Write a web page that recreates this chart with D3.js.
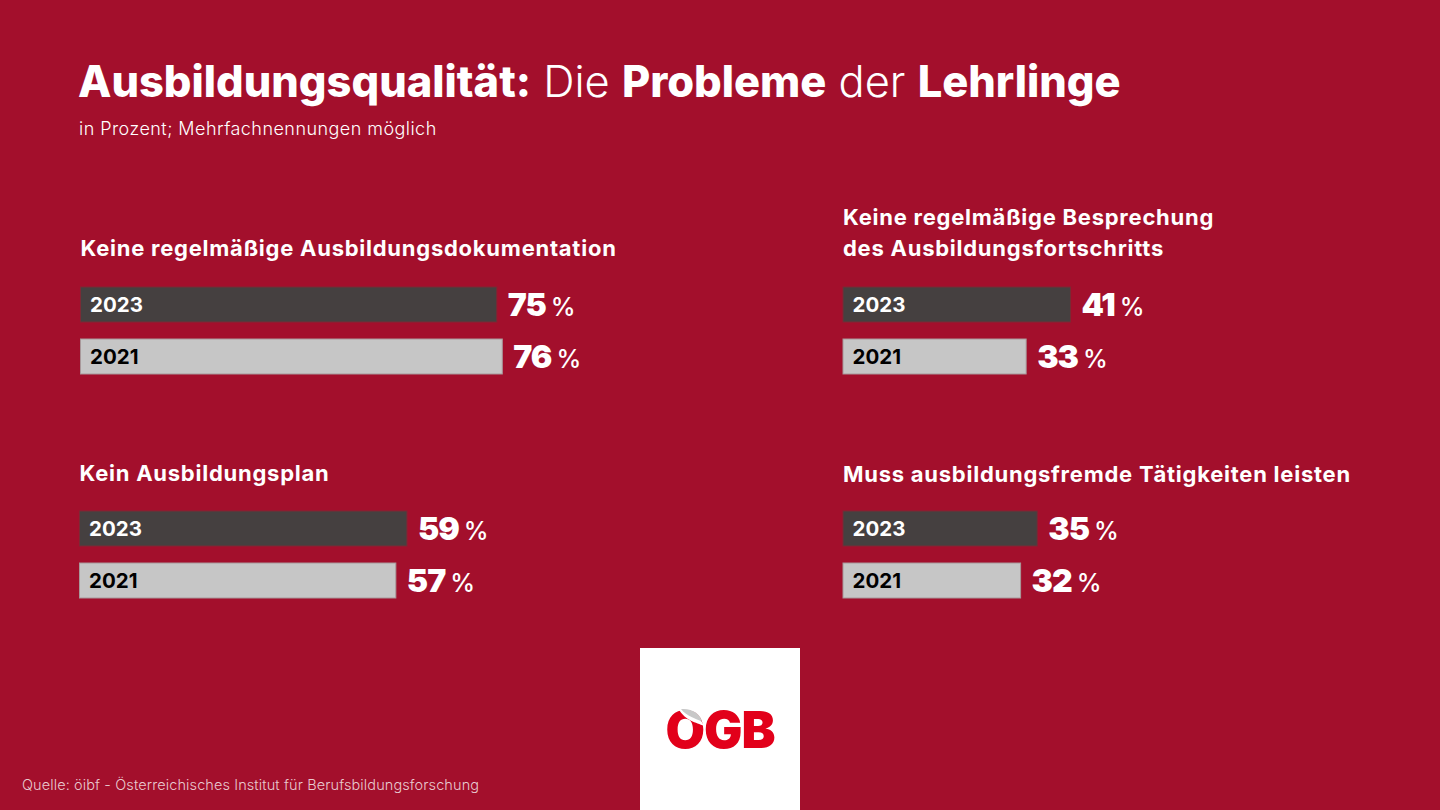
<!DOCTYPE html>
<html lang="de"><head><meta charset="utf-8">
<script src="https://cdn.jsdelivr.net/npm/d3@7"></script>
<style>html,body{margin:0;padding:0;background:#a30f2c;overflow:hidden}svg{display:block}text{font-family:Inter,Lato,"Open Sans",sans-serif}</style>
</head><body><svg id="c" width="1440" height="810"></svg>
<script>
const titleParts=[["Ausbildungsqualität:",800],[" Die ",300],["Probleme",800],[" der ",300],["Lehrlinge",800]];
const subtitle="in Prozent; Mehrfachnennungen möglich";
const source="Quelle: öibf - Österreichisches Institut für Berufsbildungsforschung";
const years=["2023","2021"];
const panelTitles=[["Keine regelmäßige Ausbildungsdokumentation"],["Keine regelmäßige Besprechung","des Ausbildungsfortschritts"],["Kein Ausbildungsplan"],["Muss ausbildungsfremde Tätigkeiten leisten"]];
const values2023=[75,41,59,35];
const values2021=[76,33,57,32];
const panelX=[80.5,843,79.5,843];
const panelY=[287,287,511,511];
const titleBaseline=[256,256,481,482];

const svg=d3.select("#c");
svg.append("rect").attr("width",1440).attr("height",810).attr("fill","#a30f2c");
const t=svg.append("text").attr("x",78).attr("y",97).attr("fill","#fff").attr("font-size",43.4).style("white-space","pre");
t.selectAll("tspan").data(titleParts).join("tspan").text(d=>d[0]).attr("font-weight",d=>d[1]);
svg.append("text").attr("x",79).attr("y",135).attr("fill","#fff").attr("font-size",18).attr("letter-spacing",0.45).attr("font-weight",300).text(subtitle);
const x=d3.scaleLinear().domain([0,100]).range([0,555]);
const y=d3.scaleBand().domain(years).range([0,87]).paddingInner(0.327);
panelTitles.forEach((lines,i)=>{
  const g=svg.append("g").attr("transform",`translate(${panelX[i]},${panelY[i]})`);
  lines.forEach((l,j)=>svg.append("text").attr("x",panelX[i]).attr("y",titleBaseline[i]-(lines.length-1-j)*31)
    .attr("fill","#fff").attr("font-size",22).attr("letter-spacing",0.75).attr("font-weight",700).text(l));
  const row=[values2023[i],values2021[i]];
  years.forEach((yr,k)=>{
    const v=row[k],b=y(yr);
    g.append("rect").attr("x",0).attr("y",b).attr("width",x(v)).attr("height",y.bandwidth())
      .attr("fill",k?"#c6c6c6":"#454040").attr("stroke",k?"#a8989a":"#7a2a35").attr("stroke-width",1);
    g.append("text").attr("x",9.5).attr("y",b+25).attr("font-size",20.5).attr("font-weight",700)
      .attr("fill",k?"#000":"#fff").text(yr);
    const lab=g.append("text").attr("x",x(v)+11).attr("y",b+29).attr("fill","#fff").style("white-space","pre");
    lab.append("tspan").attr("font-size",32).attr("font-weight",900).attr("letter-spacing",-1).text(v);
    lab.append("tspan").attr("font-size",25).attr("font-weight",500).attr("dx",5).text("%");
  });
});
svg.append("text").attr("x",22).attr("y",790).attr("fill","#e8c9cf").attr("font-size",14.5).attr("letter-spacing",0.1).attr("font-weight",300).text(source);
// logo
const logo=svg.append("g");
logo.append("rect").attr("x",640).attr("y",648).attr("width",160).attr("height",162).attr("fill","#fff");
logo.append("text").attr("x",720).attr("y",748).attr("text-anchor","middle").attr("font-size",51).attr("font-weight",900).attr("fill","#e2001a").attr("letter-spacing",-1).text("OGB");
logo.append("path").attr("d","M678 708 C690 711 700 716 704 726 C696 722 686 722 678 708Z").attr("fill","#fff");
logo.append("path").attr("d","M681 709 C692 708 701 714 702 722 C696 718 687 717 681 709Z").attr("fill","#c8c8c8");
</script></body></html>
